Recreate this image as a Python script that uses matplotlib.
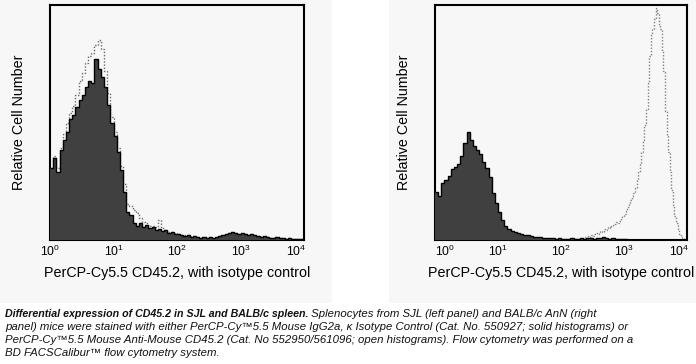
import numpy as np
import matplotlib
matplotlib.use("Agg")
import matplotlib.pyplot as plt
import matplotlib.transforms as mtransforms
from matplotlib.patches import Rectangle

plt.rcParams['font.family'] = ['Liberation Sans', 'DejaVu Sans']
plt.rcParams['mathtext.fontset'] = 'custom'
plt.rcParams['mathtext.rm'] = 'Liberation Sans'
plt.rcParams['mathtext.it'] = 'Liberation Sans:italic'
plt.rcParams['mathtext.bf'] = 'Liberation Sans:bold'

# ---------------- data (relative cell number per log channel) ----------------
# coarse channels: 80 bins across 10^0 .. 10^4
sjl_isotype = [72, 82, 68, 90, 100, 108, 122, 126,
               134, 141, 146, 154, 160, 158, 182, 172,
               164, 154, 136, 118, 104, 88, 70, 48,
               28, 25, 17, 14, 17, 13, 15, 12,
               13, 10, 11, 9, 10, 7, 8, 6,
               6, 5, 4, 5, 3, 4, 3, 2,
               3, 2, 3, 2, 3, 4, 5, 6,
               7, 8, 7, 6, 7, 6, 5, 6,
               5, 4, 3, 4, 3, 2, 2, 3,
               2, 2, 1, 2, 1, 1, 1, 1]
sjl_cd452 = [72, 84, 72, 92, 106, 118, 128, 135,
             146, 160, 168, 178, 185, 188, 196, 201,
             192, 170, 148, 124, 108, 92, 74, 56,
             36, 34, 30, 27, 22, 18, 17, 14,
             14, 13, 20, 12, 10, 8, 8, 7,
             6, 5, 5, 5, 4, 4, 3, 3,
             3, 2, 3, 2, 3, 4, 5, 6,
             7, 8, 7, 6, 7, 6, 5, 6,
             5, 4, 3, 4, 3, 2, 2, 3,
             2, 2, 1, 2, 1, 1, 1, 1]
balbc_isotype = [48, 44, 57, 60, 64, 71, 73, 76,
                 84, 97, 108, 100, 94, 90, 86, 78,
                 72, 63, 47, 37, 28, 20, 14, 11,
                 9, 8, 7, 6, 5, 5, 4, 3,
                 3, 3, 2, 2, 2, 2, 1, 2,
                 1, 1, 1, 2, 1, 1, 2, 1,
                 2, 2, 1, 2, 2, 3, 2, 1,
                 2, 1, 1, 1, 1, 0, 0, 0,
                 0, 0, 0, 0, 0, 0, 0, 0,
                 0, 0, 0, 0, 0, 0, 0, 0]
# fine channels (160 bins across 10^0 .. 10^4), listed from channel 88 on
balbc_cd452_first_channel = 88
balbc_cd452 = [1, 0, 1, 1, 2, 1, 2, 3,
               2, 4, 3, 5, 4, 6, 7, 6,
               8, 9, 8, 11, 10, 12, 13, 12,
               14, 15, 16, 18, 17, 19, 22, 24,
               26, 29, 33, 37, 40, 44, 47, 52,
               60, 68, 77, 88, 100, 115, 132, 158,
               185, 207, 212, 222, 233, 228, 216, 212,
               190, 170, 130, 105, 88, 68, 50, 35,
               24, 17, 10, 6, 3, 2, 1, 0]

xtick_values = [1, 10, 100, 1000, 10000]
xtick_labels = [r'$10^{0}$', r'$10^{1}$', r'$10^{2}$', r'$10^{3}$', r'$10^{4}$']
xlabel = 'PerCP-Cy5.5 CD45.2, with isotype control'
ylabel = 'Relative Cell Number'

coarse_edges = np.logspace(0, 4, len(sjl_isotype) + 1)
fine_edges = np.logspace(0, 4, 161)
balbc_fine_edges = fine_edges[balbc_cd452_first_channel:balbc_cd452_first_channel + len(balbc_cd452) + 1]

# ---------------- figure ----------------
W, H = 696, 364
fig = plt.figure(figsize=(W / 100, H / 100), dpi=100)
fig.patch.set_facecolor('white')
panel_bg = '#f7f7f7'
fig.add_artist(Rectangle((0, 1 - 303 / H), 332 / W, 303 / H, transform=fig.transFigure,
                         facecolor=panel_bg, edgecolor='none', zorder=0))
fig.add_artist(Rectangle((389 / W, 1 - 303 / H), (W - 389) / W, 303 / H, transform=fig.transFigure,
                         facecolor=panel_bg, edgecolor='none', zorder=0))

ax_l = fig.add_axes([50 / W, (H - 240) / H, 254 / W, 235 / H])
ax_r = fig.add_axes([435 / W, (H - 240) / H, 252 / W, 235 / H])

fill_col = '#404040'
dot_col = '#6a6a6a'

def style(ax, first_left):
    ax.set_facecolor(panel_bg)
    ax.set_xscale('log')
    ax.set_xlim(1, 10000)
    ax.set_ylim(0, 236)
    ax.set_xticks(xtick_values)
    ax.set_xticklabels(xtick_labels)
    ax.xaxis.set_minor_locator(matplotlib.ticker.NullLocator())
    ax.set_yticks([])
    ax.tick_params(axis='x', length=0, pad=3, labelsize=8.7)
    labs = ax.get_xticklabels()
    labs[-1].set_ha('right')
    labs[-1].set_transform(labs[-1].get_transform() +
                           mtransforms.ScaledTranslation(2 / 100, 0, fig.dpi_scale_trans))
    if first_left:
        labs[0].set_ha('left')
    for s in ax.spines.values():
        s.set_linewidth(1.5)
        s.set_color('black')
    ax.set_xlabel(xlabel, fontsize=10.3, labelpad=5)
    ax.set_ylabel(ylabel, fontsize=10.3, labelpad=17)

# left panel: SJL
ax_l.stairs(sjl_cd452, coarse_edges, baseline=None, color=dot_col, linestyle=(0, (1, 1.3)), lw=1.0, zorder=2)
ax_l.stairs(sjl_isotype, coarse_edges, fill=True, color=fill_col, zorder=3)
ax_l.stairs(sjl_isotype, coarse_edges, baseline=None, color='black', lw=1.0, zorder=4)
style(ax_l, False)

# right panel: BALB/c
ax_r.stairs(balbc_cd452, balbc_fine_edges, baseline=None, color='#808080', linestyle=(0, (1, 1.3)), lw=1.0, zorder=2)
ax_r.stairs(balbc_isotype, coarse_edges, fill=True, color=fill_col, zorder=3)
ax_r.stairs(balbc_isotype, coarse_edges, baseline=None, color='black', lw=1.0, zorder=4)
style(ax_r, True)

# ---------------- caption ----------------
cap_size = 8.2
x0 = 5 / W
base_y = [316.7, 330.0, 343.3, 356.3]
bold_part = 'Differential expression of CD45.2 in SJL and BALB/c spleen.'
line1_rest = ' Splenocytes from SJL (left panel) and BALB/c AnN (right'
other_lines = ['panel) mice were stained with either PerCP-Cy\u21225.5 Mouse IgG2a, \u03ba Isotype Control (Cat. No. 550927; solid histograms) or',
               'PerCP-Cy\u21225.5 Mouse Anti-Mouse CD45.2 (Cat. No 552950/561096; open histograms). Flow cytometry was performed on a',
               'BD FACSCalibur\u2122 flow cytometry system.']

t_bold = fig.text(x0, 1 - base_y[0] / H, bold_part, fontsize=7.7, style='italic',
                  weight='bold', va='baseline', ha='left', color='#111111')
fig.canvas.draw()
bb = t_bold.get_window_extent(renderer=fig.canvas.get_renderer())
fig.text(bb.x1 / W, 1 - base_y[0] / H, line1_rest, fontsize=cap_size, style='italic',
         va='baseline', ha='left', color='#111111')
for yb, txt in zip(base_y[1:], other_lines):
    fig.text(x0, 1 - yb / H, txt, fontsize=cap_size, style='italic', va='baseline', ha='left', color='#111111')

fig.savefig('out.png', dpi=100, facecolor=fig.get_facecolor())
